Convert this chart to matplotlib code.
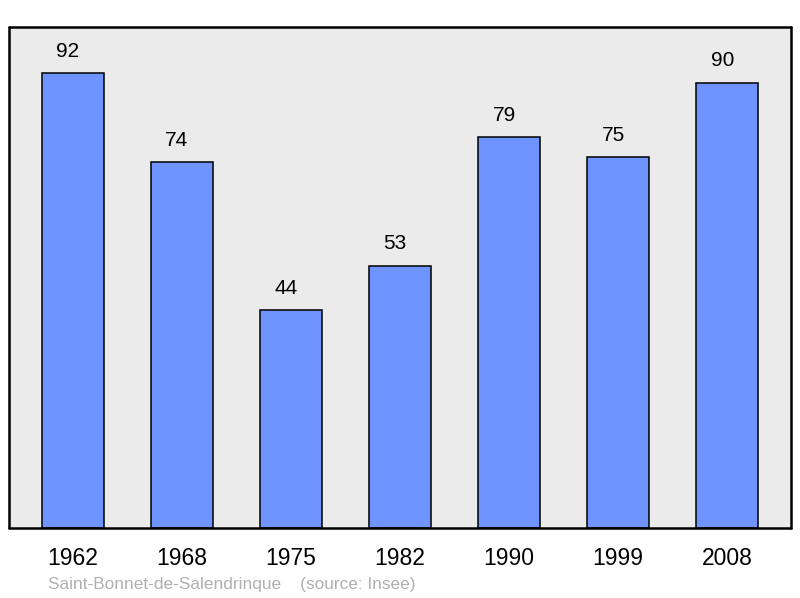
import matplotlib.pyplot as plt
import numpy as np

# donnees
annees = ['1962', '1968', '1975', '1982', '1990', '1999', '2008']
population = [92, 74, 44, 53, 79, 75, 90]
commune = 'Saint-Bonnet-de-Salendrinque'
source = '(source: Insee)'

plt.rcParams['font.family'] = ['Liberation Sans', 'DejaVu Sans']

fig = plt.figure(figsize=(8, 5.98), dpi=100)
ax = fig.add_axes([9/800, 70/598, 782/800, 501/598])
ax.set_facecolor('#ebebeb')

x = np.arange(len(annees))
barras = ax.bar(x, population, width=0.57, color='#7094ff', edgecolor='black', linewidth=1.1)

# etiquetas de valores encima de cada barra
for xi, v in zip(x, population):
    ax.annotate(str(v), (xi, v), xytext=(-3.6, 15.8), textcoords='offset points',
                ha='center', va='center', fontsize=15)

ax.set_xlim(-0.585, 6.585)
ax.set_ylim(0, 101.3)
ax.set_yticks([])
ax.set_xticks(x)
ax.set_xticklabels(annees, fontsize=16.5)
ax.tick_params(axis='x', length=0, pad=13.5)
for s in ax.spines.values():
    s.set_linewidth(1.8)
    s.set_capstyle('round')
    s.set_joinstyle('round')

fig.text(48/800, 1 - 584/598, commune + '    ' + source, fontsize=12.4,
         color='#b0b0b0', va='center', ha='left')

plt.savefig('out.png', dpi=100)
